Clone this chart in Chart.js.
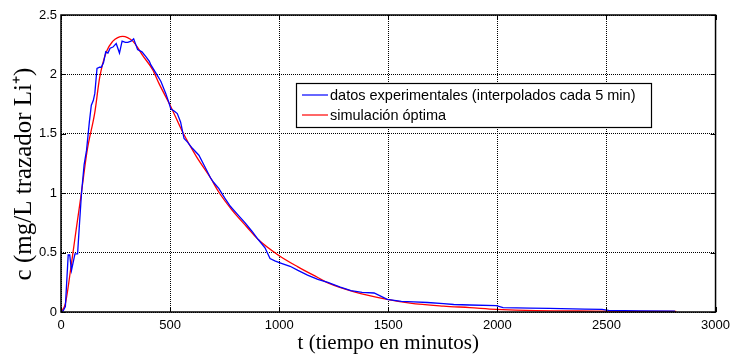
<!DOCTYPE html>
<html lang="es">
<head>
  <meta charset="UTF-8">
  <title>Curva de trazador Li+</title>
  <style>
    html, body { margin: 0; padding: 0; background: #fff; }
    #wrap { width: 736px; height: 358px; }
  </style>
</head>
<body>
  <div id="wrap"><canvas id="chart" width="736" height="358"></canvas></div>

  <script src="https://cdn.jsdelivr.net/npm/chart.js"></script>
  <script>
    const expTime = [0, 10, 20, 33, 40, 48, 64, 76, 85, 94, 106, 117, 130, 139, 148, 155, 165, 177, 185, 195,
      205, 215, 225, 238, 253, 268, 280, 295, 306, 321, 333, 345, 351, 371, 389, 405, 412, 442, 458, 480,
      495, 503, 520, 533, 548, 564, 580, 601, 632, 660, 685, 700, 723, 750, 776, 810, 844, 875, 904, 935,
      958, 980, 1010, 1050, 1086, 1130, 1177, 1223, 1280, 1329, 1380, 1435, 1470, 1495, 1560, 1617, 1680,
      1753, 1800, 1874, 1995, 2026, 2150, 2238, 2400, 2480, 2510, 2650, 2814];
    const expConc = [0, 0.01, 0.045, 0.48, 0.48, 0.35, 0.49, 0.49, 0.75, 1.0, 1.24, 1.36, 1.6, 1.74, 1.78, 1.84, 2.05, 2.06, 2.06, 2.1,
      2.19, 2.18, 2.22, 2.23, 2.26, 2.18, 2.28, 2.27, 2.27, 2.28, 2.30, 2.24, 2.21, 2.19, 2.15, 2.11, 2.08, 1.99, 1.94, 1.84,
      1.76, 1.71, 1.69, 1.67, 1.60, 1.46, 1.43, 1.38, 1.32, 1.22, 1.13, 1.09, 1.04, 0.96, 0.89, 0.82, 0.75, 0.68, 0.61, 0.54,
      0.45, 0.43, 0.41, 0.385, 0.35, 0.31, 0.275, 0.25, 0.21, 0.18, 0.165, 0.16, 0.13, 0.107, 0.09, 0.085, 0.08,
      0.07, 0.063, 0.059, 0.053, 0.036, 0.033, 0.031, 0.025, 0.022, 0.014, 0.01, 0.008];

    // optimal simulation
    const simTime = [0, 20, 48, 70, 94, 120, 155, 177, 208, 238, 260, 283, 305, 329, 350, 374, 420, 450, 503, 556,
      620, 685, 723, 783, 850, 904, 995, 1086, 1177, 1223, 1344, 1495, 1600, 1753, 1874, 1995, 2177, 2450, 2820];
    const simConc = [0, 0.07, 0.41, 0.7, 1.01, 1.36, 1.68, 1.97, 2.19, 2.28, 2.31, 2.32, 2.31, 2.28, 2.23, 2.16, 2.04, 1.92, 1.73, 1.52,
      1.31, 1.13, 1.01, 0.86, 0.72, 0.61, 0.48, 0.38, 0.29, 0.245, 0.17, 0.107, 0.075, 0.05, 0.037, 0.022, 0.011, 0.008, 0.005];

    const seriesLabels = ['datos experimentales (interpolados cada 5 min)', 'simulación óptima'];
    const seriesColors = ['#0000ff', '#ff0000'];

    const xTicks = [0, 500, 1000, 1500, 2000, 2500, 3000];
    const yTicks = [0, 0.5, 1, 1.5, 2, 2.5];
    const yTitle = 'c (mg/L trazador Li⁺)';

    const toPoints = (xs, ys) => xs.map((x, i) => ({ x: x, y: ys[i] }));

    // box around the plot, inward ticks, y title and the legend, matlab style
    const frame = {
      id: 'frame',
      afterDraw(chart) {
        const ctx = chart.ctx;
        const a = chart.chartArea;
        const xs = chart.scales.x, ys = chart.scales.y;
        ctx.save();
        ctx.strokeStyle = '#000';
        ctx.lineWidth = 1.5;
        ctx.strokeRect(a.left, a.top, a.right - a.left, a.bottom - a.top);
        ctx.lineWidth = 1;
        ctx.beginPath();
        xTicks.forEach(v => {
          const px = Math.round(xs.getPixelForValue(v)) + 0.5;
          ctx.moveTo(px, a.bottom); ctx.lineTo(px, a.bottom - 5);
          ctx.moveTo(px, a.top); ctx.lineTo(px, a.top + 5);
        });
        yTicks.forEach(v => {
          const py = Math.round(ys.getPixelForValue(v)) + 0.5;
          ctx.moveTo(a.left, py); ctx.lineTo(a.left + 5, py);
          ctx.moveTo(a.right, py); ctx.lineTo(a.right - 5, py);
        });
        ctx.stroke();

        // y title, a little lower than the axis centre as in the original
        ctx.save();
        ctx.translate(24, 174);
        ctx.rotate(-Math.PI / 2);
        ctx.fillStyle = '#000';
        ctx.font = '25px "Liberation Serif", "Times New Roman", serif';
        ctx.textAlign = 'center';
        ctx.textBaseline = 'middle';
        ctx.fillText(yTitle, 0, 0);
        ctx.restore();

        // legend
        const lx = 296, ly = 83, lw = 355, lh = 44;
        ctx.fillStyle = '#fff';
        ctx.fillRect(lx, ly, lw, lh);
        ctx.strokeStyle = '#000';
        ctx.lineWidth = 1.2;
        ctx.strokeRect(lx + 0.5, ly + 0.5, lw, lh);
        ctx.font = '14.5px "Liberation Sans", Arial, sans-serif';
        ctx.textBaseline = 'middle';
        chart.data.datasets.forEach((ds, i) => {
          const y = ly + 12 + i * 20;
          ctx.strokeStyle = ds.borderColor;
          ctx.lineWidth = 1.2;
          ctx.beginPath();
          ctx.moveTo(lx + 6, y); ctx.lineTo(lx + 32, y);
          ctx.stroke();
          ctx.fillStyle = '#000';
          ctx.fillText(ds.label, lx + 34, y + 1);
        });
        ctx.restore();
      }
    };

    new Chart(document.getElementById('chart'), {
      type: 'line',
      data: {
        datasets: [
          {
            label: seriesLabels[0],
            data: toPoints(expTime, expConc),
            borderColor: seriesColors[0],
            borderWidth: 1.3,
            pointRadius: 0,
            tension: 0
          },
          {
            label: seriesLabels[1],
            data: toPoints(simTime, simConc),
            borderColor: seriesColors[1],
            borderWidth: 1.3,
            pointRadius: 0,
            cubicInterpolationMode: 'monotone'
          }
        ]
      },
      options: {
        responsive: false,
        animation: false,
        layout: { padding: { top: 15, right: 14, left: 0, bottom: 2 } },
        plugins: {
          legend: { display: false },
          tooltip: { enabled: false }
        },
        scales: {
          x: {
            type: 'linear',
            min: 0, max: 3000,
            afterFit: s => { s.height = 44; },
            afterBuildTicks: s => { s.ticks = xTicks.map(v => ({ value: v })); },
            grid: { color: '#000', lineWidth: 1, drawTicks: false },
            border: { display: false, dash: [1, 1] },
            ticks: {
              color: '#000', padding: 6, maxRotation: 0,
              callback: v => String(v),
              font: { family: '"Liberation Sans", Arial, sans-serif', size: 13 }
            },
            title: {
              display: true, text: 't (tiempo en minutos)', color: '#000',
              font: { family: '"Liberation Serif", "Times New Roman", serif', size: 21 },
              padding: { top: 0, bottom: 0 }
            }
          },
          y: {
            min: 0, max: 2.5,
            afterFit: s => { s.width = 61; },
            afterBuildTicks: s => { s.ticks = yTicks.map(v => ({ value: v })); },
            grid: { color: '#000', lineWidth: 1, drawTicks: false },
            border: { display: false, dash: [1, 1] },
            ticks: {
              color: '#000', padding: 4,
              callback: v => String(v),
              font: { family: '"Liberation Sans", Arial, sans-serif', size: 13 }
            }
          }
        }
      },
      plugins: [frame]
    });
  </script>
</body>
</html>
